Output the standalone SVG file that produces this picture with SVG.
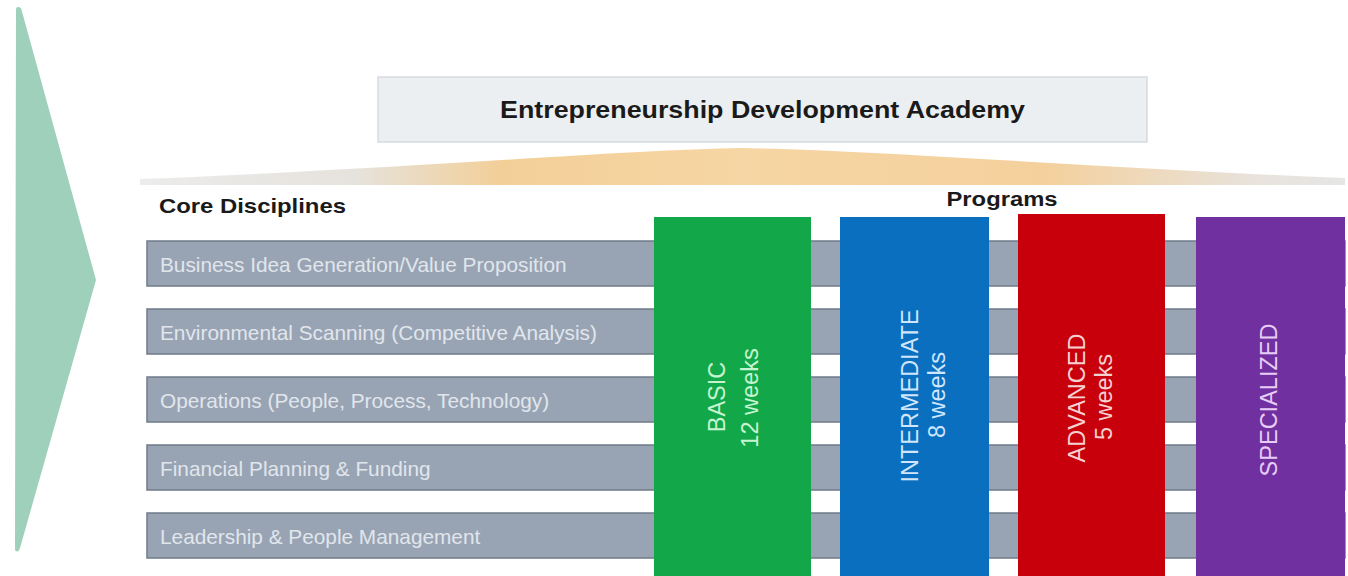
<svg xmlns="http://www.w3.org/2000/svg" width="1348" height="576" viewBox="0 0 1348 576">
  <defs>
    <linearGradient id="hump" x1="0" y1="0" x2="1" y2="0">
      <stop offset="0" stop-color="#ececec"/>
      <stop offset="0.18" stop-color="#e6e2dc"/>
      <stop offset="0.3" stop-color="#f3cf98"/>
      <stop offset="0.5" stop-color="#f6d6a4"/>
      <stop offset="0.75" stop-color="#f4d09c"/>
      <stop offset="0.92" stop-color="#e8e2da"/>
      <stop offset="1" stop-color="#e6e6e6"/>
    </linearGradient>
    <style>
      .bar { fill: #98a4b4; stroke: #6f7b89; stroke-width: 1.5; }
      .barText { font-family: "Liberation Sans", Arial, sans-serif; font-size: 20.8px; fill: #e1e6ec; }
      .head { font-family: "Liberation Sans", Arial, sans-serif; font-weight: bold; fill: #1a1a1a; }
      .prog { font-family: "Liberation Sans", Arial, sans-serif; font-size: 23.5px; text-anchor: middle; }
    </style>
  </defs>
  <rect width="1348" height="576" fill="#ffffff"/>

  <g id="arrow">
    <path d="M16,10 Q16,5 21,8 L96,280 L20,548 Q18,554 15,550 Z" fill="#9fd0bc"/>
  </g>

  <g id="title">
    <rect x="378" y="77" width="769" height="65" fill="#eceff2" stroke="#d6dadf" stroke-width="1.5"/>
    <text class="head" x="762.5" y="118" font-size="24" text-anchor="middle" textLength="525" lengthAdjust="spacingAndGlyphs">Entrepreneurship Development Academy</text>
  </g>

  <g id="hump-shape">
    <path d="M140,185 L140,179 C 420,168 620,150 742,148 C 880,150 1090,168 1345,178 L1345,185 Z" fill="url(#hump)"/>
  </g>

  <g id="core-label">
    <text class="head" x="159" y="213" font-size="21" textLength="187" lengthAdjust="spacingAndGlyphs">Core Disciplines</text>
  </g>
  <g id="programs-label">
    <text class="head" x="1002" y="206" font-size="20" text-anchor="middle" textLength="111" lengthAdjust="spacingAndGlyphs">Programs</text>
  </g>

  <g id="disciplines">
    <g id="d1">
      <rect class="bar" x="147" y="241" width="1198" height="45"/>
      <text class="barText" x="160" y="272">Business Idea Generation/Value Proposition</text>
    </g>
    <g id="d2">
      <rect class="bar" x="147" y="309" width="1198" height="45"/>
      <text class="barText" x="160" y="340">Environmental Scanning (Competitive Analysis)</text>
    </g>
    <g id="d3">
      <rect class="bar" x="147" y="377" width="1198" height="45"/>
      <text class="barText" x="160" y="408">Operations (People, Process, Technology)</text>
    </g>
    <g id="d4">
      <rect class="bar" x="147" y="445" width="1198" height="45"/>
      <text class="barText" x="160" y="476">Financial Planning &amp; Funding</text>
    </g>
    <g id="d5">
      <rect class="bar" x="147" y="513" width="1198" height="45"/>
      <text class="barText" x="160" y="544">Leadership &amp; People Management</text>
    </g>
  </g>

  <g id="basic">
    <rect x="654" y="217" width="157" height="362" fill="#12a84a"/>
    <text class="prog" fill="#c6f4d0" transform="translate(725,397) rotate(-90)">BASIC</text>
    <text class="prog" fill="#c6f4d0" transform="translate(758,398) rotate(-90)">12 weeks</text>
  </g>
  <g id="intermediate">
    <rect x="840" y="217" width="149" height="362" fill="#0b6fc0"/>
    <text class="prog" fill="#cfe6fc" transform="translate(918,396) rotate(-90)">INTERMEDIATE</text>
    <text class="prog" fill="#cfe6fc" transform="translate(945,395) rotate(-90)">8 weeks</text>
  </g>
  <g id="advanced">
    <rect x="1018" y="214" width="147" height="365" fill="#c7000b"/>
    <text class="prog" fill="#f6d0d0" transform="translate(1085,398) rotate(-90)">ADVANCED</text>
    <text class="prog" fill="#f6d0d0" transform="translate(1112,397) rotate(-90)">5 weeks</text>
  </g>
  <g id="specialized">
    <rect x="1196" y="217" width="149" height="362" fill="#7030a0"/>
    <text class="prog" fill="#e6ccf6" transform="translate(1277,400) rotate(-90)">SPECIALIZED</text>
  </g>
</svg>
